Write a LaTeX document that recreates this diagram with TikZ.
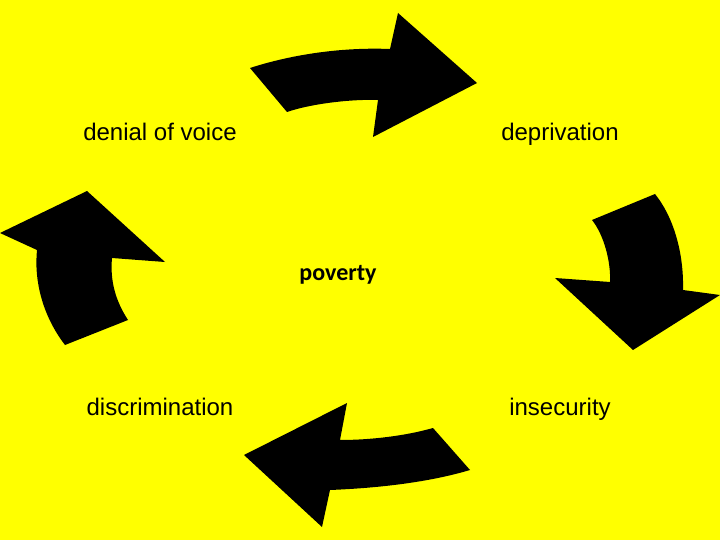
\documentclass[tikz,border=0pt]{standalone}
\usepackage{fontspec}
\setmainfont{Liberation Sans}
\newfontfamily\calfont{Carlito}
\definecolor{bgyellow}{RGB}{255,255,0}
\tikzset{
  label/.style={font=\fontsize{24}{28}\selectfont, inner sep=0pt, anchor=base},
  bigarrow/.style={fill=black, draw=none}
}
\begin{document}
\begin{tikzpicture}[x=1pt, y=-1pt]

% 背景
\fill[bgyellow] (0,0) rectangle (720,540);
\useasboundingbox (0,0) rectangle (720,540);

% 文字
\node[label] (voice) at (160,141) {denial of voice};
\node[label] (depriv) at (560,141) {deprivation};
\node[label] (discr) at (160,415) {discrimination};
\node[label] (insec) at (560,415) {insecurity};
\node[inner sep=0pt, anchor=base, font=\calfont\bfseries\fontsize{24}{28}\selectfont] (poverty) at (338,280) {poverty};

% 上方箭头
\fill[bigarrow] (250,68) .. controls (290,55) and (340,47) .. (390,49)
  -- (398,13) -- (477,83) -- (373,137) -- (378,100)
  .. controls (350,99) and (310,104) .. (287,112) -- cycle;

% 右侧箭头
\fill[bigarrow] (592,220) -- (655,194) .. controls (672,215) and (684,250) .. (683,290)
  -- (720,295) -- (633,350) -- (555,278) -- (610,282)
  .. controls (611,262) and (604,235) .. cycle;

% 下方箭头
\fill[bigarrow] (433,428) -- (470,470) .. controls (430,482) and (380,488) .. (330,490)
  -- (322,527) -- (244,455) -- (347,403) -- (340,440)
  .. controls (370,440) and (405,436) .. cycle;

% 左侧箭头
\fill[bigarrow] (65,345) -- (128,320) .. controls (115,300) and (110,280) .. (112,258)
  -- (165,262) -- (87,191) -- (0,233) -- (37,250)
  .. controls (34,280) and (42,315) .. cycle;

\end{tikzpicture}
\end{document}
